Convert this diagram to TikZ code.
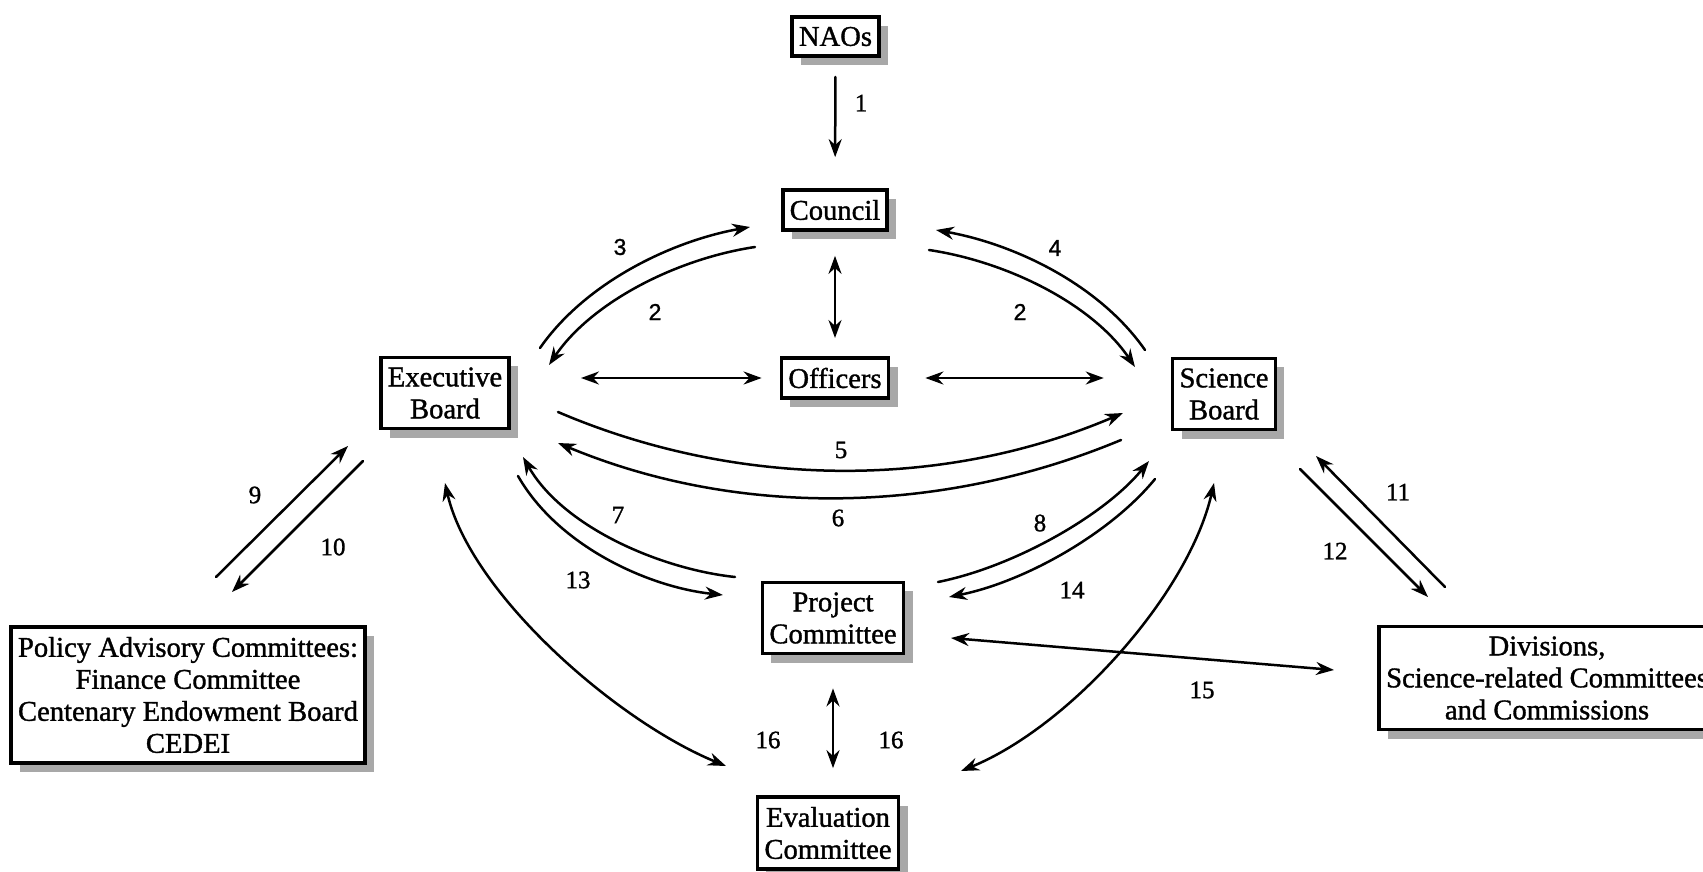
\documentclass[tikz,border=0pt]{standalone}
\usepackage{fontspec}
\setmainfont{Liberation Serif}[RawFeature={embolden=1.2}]
\newfontfamily\numsans{Liberation Sans}[RawFeature={embolden=1.2}]
\usetikzlibrary{arrows.meta,shadows}
\definecolor{ink}{HTML}{000000}
\definecolor{shade}{HTML}{A8A8A8}
\tikzset{
  box/.style={draw=ink, fill=white, line width=1.8pt, align=center,
    inner xsep=3.5pt, inner ysep=5pt, font=\fontsize{14.3}{16}\selectfont,
    drop shadow={shadow xshift=4.5pt, shadow yshift=-4.5pt, fill=shade, opacity=1}},
  tip/.style={-{Stealth[length=9pt,width=6.5pt]}},
  link/.style={draw=ink, line width=1.25pt, line cap=round, tip},
  both/.style={draw=ink, line width=1.25pt, line cap=round,
    {Stealth[length=9pt,width=6.5pt]}-{Stealth[length=9pt,width=6.5pt]}},
  num/.style={text=ink, font=\fontsize{12.5}{14}\selectfont},
  nums/.style={text=ink, font=\numsans\fontsize{11.5}{13}\selectfont},
}

\begin{document}
\begin{tikzpicture}[x=0.5pt, y=-0.5pt]
  \useasboundingbox (0,0) rectangle (1703,872);

  % boxes
  \node[box] (naos)    at (835.5,36.5) {NAOs};
  \node[box] (council) at (835,210)  {Council};
  \node[box] (officers) at (835,378) {Officers};
  \node[box] (exec)    at (445,393)  {Executive\\Board};
  \node[box] (science) at (1224,394) {Science\\Board};
  \node[box] (project) at (833,618)  {Project\\Committee};
  \node[box] (eval)    at (828,833)  {Evaluation\\Committee};
  \node[box] (policy)  at (188,695)  {Policy Advisory Committees:\\Finance Committee\\Centenary Endowment Board\\CEDEI};
  \node[box] (divs)    at (1547,678) {Divisions,\\Science-related Committees\\and Commissions};

  % straight links between boxes
  \draw[link, shorten <=9.5pt, shorten >=15.5pt] (naos) -- (council);
  \draw[both, shorten <=12pt, shorten >=9pt] (council) -- (officers);
  \draw[both, shorten <=35pt, shorten >=9pt] (officers -| exec.east) -- (officers.west);
  \draw[both, shorten <=17.5pt, shorten >=33.5pt] (officers.east) -- (officers -| science.west);
  \draw[both, shorten <=16.5pt, shorten >=13.5pt] (project.south) -- (project.south |- eval.north);

  % free ends of the curved and slanted links
  \coordinate (c3a) at (540,348);   \coordinate (c3b) at (750,227);
  \coordinate (c2a) at (755,247);   \coordinate (c2b) at (549,365);
  \coordinate (c4a) at (1145,350);  \coordinate (c4b) at (936,230);
  \coordinate (d2a) at (929,250);   \coordinate (d2b) at (1135,367);
  \coordinate (c5a) at (558,412);   \coordinate (c5b) at (1123,413);
  \coordinate (c6a) at (1121,440);  \coordinate (c6b) at (558,443);
  \coordinate (c7a) at (735,577);   \coordinate (c7b) at (523,457);
  \coordinate (c13a) at (518,476);  \coordinate (c13b) at (723,595);
  \coordinate (c8a) at (938,582);   \coordinate (c8b) at (1149,461);
  \coordinate (c14a) at (1155,479); \coordinate (c14b) at (949,597);
  \coordinate (c9a) at (216,577);   \coordinate (c9b) at (348,446);
  \coordinate (c10a) at (363,461);  \coordinate (c10b) at (232,592);
  \coordinate (c11a) at (1445,587); \coordinate (c11b) at (1316,456);
  \coordinate (c12a) at (1300,469); \coordinate (c12b) at (1428,597);
  \coordinate (c15a) at (951,638);  \coordinate (c15b) at (1334,670);
  \coordinate (cea) at (445,483);   \coordinate (ceb) at (726,766);
  \coordinate (csa) at (1214,483);  \coordinate (csb) at (961,771);

  \draw[link] (c3a) .. controls +(46,-66) and +(-78,14) .. (c3b);
  \draw[link] (c2a) .. controls +(-80,12) and +(42,-62) .. (c2b);
  \draw[link] (c4a) .. controls +(-46,-66) and +(78,14) .. (c4b);
  \draw[link] (d2a) .. controls +(80,12) and +(-42,-62) .. (d2b);
  \draw[link] (c5a) .. controls +(180,77) and +(-180,77) .. (c5b);
  \draw[link] (c6a) .. controls +(-180,75) and +(180,75) .. (c6b);
  \draw[link] (c7a) .. controls +(-75,-8) and +(40,70) .. (c7b);
  \draw[link] (c13a) .. controls +(40,70) and +(-75,-8) .. (c13b);
  \draw[link] (c8a) .. controls +(75,-15) and +(-45,55) .. (c8b);
  \draw[link] (c14a) .. controls +(-45,55) and +(75,-15) .. (c14b);
  \draw[link] (c9a) -- (c9b);
  \draw[link] (c10a) -- (c10b);
  \draw[link] (c11a) -- (c11b);
  \draw[link] (c12a) -- (c12b);
  \draw[both] (c15a) -- (c15b);
  \draw[both] (cea) .. controls +(25,110) and +(-110,-45) .. (ceb);
  \draw[both] (csa) .. controls +(-25,110) and +(110,-45) .. (csb);

  % numbers
  \node[num]  (n1)  at (861,103) {1};
  \node[nums] (n3)  at (620,247) {3};
  \node[nums] (n2a) at (655,312) {2};
  \node[nums] (n4)  at (1055,248) {4};
  \node[nums] (n2b) at (1020,312) {2};
  \node[num]  (n5)  at (841,450) {5};
  \node[num]  (n6)  at (838,518) {6};
  \node[num]  (n7)  at (618,515) {7};
  \node[num]  (n13) at (578,580) {13};
  \node[num]  (n8)  at (1040,523) {8};
  \node[num]  (n14) at (1072,590) {14};
  \node[num]  (n9)  at (255,495) {9};
  \node[num]  (n10) at (333,547) {10};
  \node[num]  (n11) at (1398,492) {11};
  \node[num]  (n12) at (1335,551) {12};
  \node[num]  (n15) at (1202,690) {15};
  \node[num]  (n16a) at (768,740) {16};
  \node[num]  (n16b) at (891,740) {16};
\end{tikzpicture}
\end{document}
